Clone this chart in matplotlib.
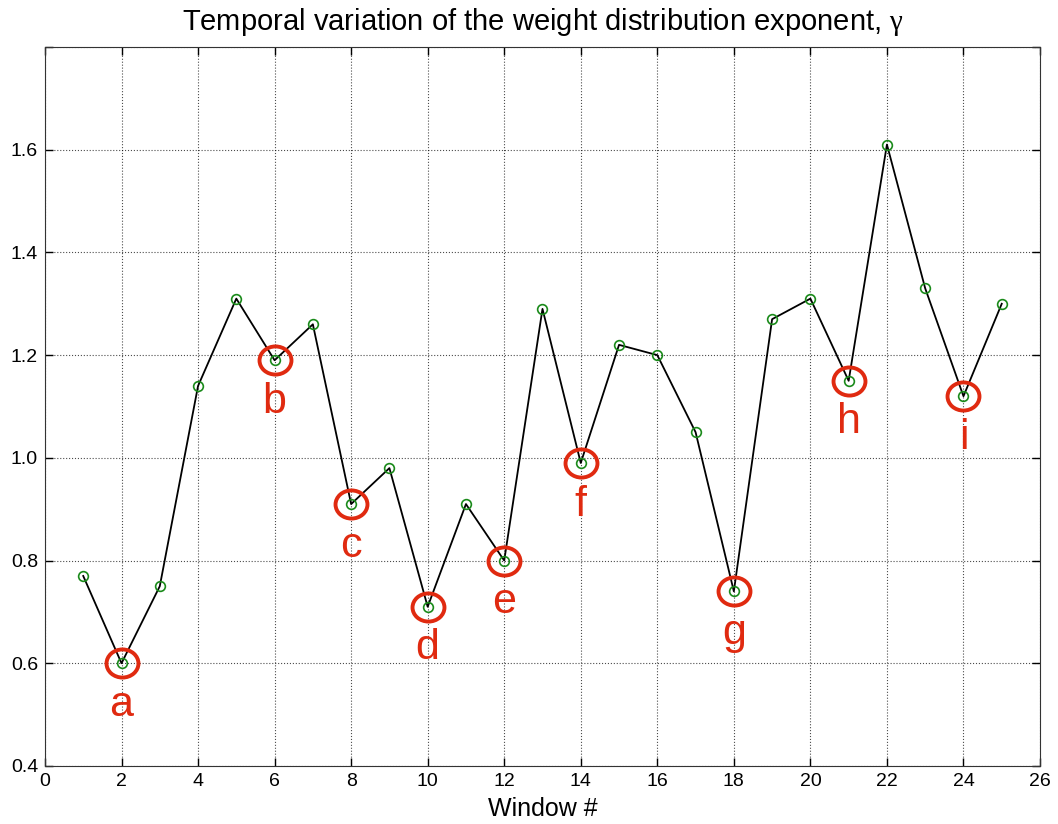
import matplotlib
matplotlib.use("Agg")
import matplotlib.pyplot as plt
from matplotlib.path import Path
from matplotlib.transforms import Affine2D

windows = list(range(1, 26))
gamma = [0.77, 0.60, 0.75, 1.14, 1.31, 1.19, 1.26, 0.91, 0.98, 0.71,
         0.91, 0.80, 1.29, 0.99, 1.22, 1.20, 1.05, 0.74, 1.27, 1.31,
         1.15, 1.61, 1.33, 1.12, 1.30]

# highlighted windows and their letters
marked = [2, 6, 8, 10, 12, 14, 18, 21, 24]
letters = ['a', 'b', 'c', 'd', 'e', 'f', 'g', 'h', 'i']

plt.rcParams['font.family'] = ['Liberation Sans', 'DejaVu Sans']
plt.rcParams['mathtext.fontset'] = 'custom'
plt.rcParams['mathtext.rm'] = 'Liberation Serif'
plt.rcParams['mathtext.it'] = 'Liberation Serif'

# slightly flattened ring for the highlights
oval = Affine2D().scale(1.0, 0.88).transform_path(Path.unit_circle())

fig = plt.figure(figsize=(10.58, 8.24), dpi=100)
ax = fig.add_axes([0.0425, 0.0704, 0.9405, 0.8726])

ax.plot(windows, gamma, '-', color='black', lw=1.3, zorder=2)
ax.plot(windows, gamma, 'o', mfc='none', mec='#1a8a1a', ms=7, mew=1.2, zorder=3)

for w, lab in zip(marked, letters):
    g = gamma[w - 1]
    ax.plot(w, g, marker=oval, mfc='none', mec='#e02a10', ms=23, mew=2.8, zorder=4)
    ax.text(w, g - 0.042, lab, color='#e02a10', fontsize=31,
            ha='center', va='top', zorder=5)

ax.set_xlim(0, 26)
ax.set_ylim(0.4, 1.8)
ax.set_xticks(range(0, 27, 2))
ax.set_yticks([0.4, 0.6, 0.8, 1.0, 1.2, 1.4, 1.6, 1.8])
ax.set_yticklabels(['0.4', '0.6', '0.8', '1.0', '1.2', '1.4', '1.6', ''])
ax.tick_params(labelsize=14, direction='in', length=6, width=1, colors='black',
               top=True, right=True, pad=5)
ax.grid(True, linestyle=':', color='black', lw=0.8, alpha=0.7)
for s in ax.spines.values():
    s.set_color('#333333')

ax.set_xlabel('Window #', fontsize=18, labelpad=5)
ax.set_title('Temporal variation of the weight distribution exponent, $\\mathrm{\\gamma}$',
             fontsize=21, pad=12)

fig.savefig('out.png', dpi=100)
